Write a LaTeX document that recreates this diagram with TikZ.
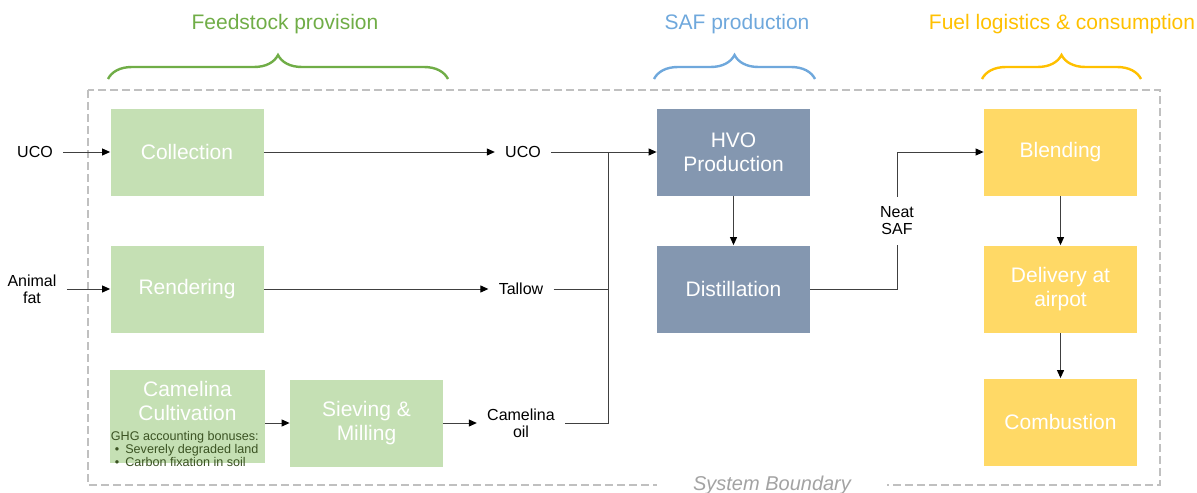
\documentclass[tikz,border=0pt]{standalone}
\usepackage{fontspec}
\setmainfont{Liberation Sans}
\usetikzlibrary{arrows.meta,decorations.pathreplacing}

\definecolor{feedgreen}{HTML}{C5E0B4}
\definecolor{safblue}{HTML}{8497B0}
\definecolor{fuelyellow}{HTML}{FFD966}
\definecolor{titlegreen}{HTML}{70AD47}
\definecolor{titleblue}{HTML}{6FA8DC}
\definecolor{titleyellow}{HTML}{FFC000}
\definecolor{bonusgreen}{HTML}{3B5323}
\definecolor{linegray}{HTML}{404040}
\definecolor{boundgray}{HTML}{C0C0C0}

\tikzset{
  box/.style={minimum width=76.5pt, minimum height=43.5pt, inner sep=0pt,
    text=white, align=center, font=\fontsize{10.5}{12}\selectfont},
  feedbox/.style={box, fill=feedgreen},
  safbox/.style={box, fill=safblue},
  fuelbox/.style={box, fill=fuelyellow},
  flowlabel/.style={inner xsep=5pt, inner ysep=5pt, align=center,
    font=\fontsize{8}{8.5}\selectfont},
  bonus/.style={inner sep=0pt, align=left, text=bonusgreen,
    font=\fontsize{6.3}{6.5}\selectfont},
  phase/.style={font=\fontsize{10.5}{12}\selectfont},
  phasebrace/.style={decorate, line width=1.2pt,
    decoration={brace, amplitude=12pt}},
  boundary/.style={boundgray, line width=1pt, dash pattern=on 4pt off 2pt},
  line/.style={linegray, line width=0.5pt},
  flow/.style={line, -{Triangle[length=4pt,width=3.5pt,color=black]}}
}

\begin{document}
\begin{tikzpicture}[x=0.5pt,y=-0.5pt]
  \useasboundingbox (0,0) rectangle (1197,492);

  % system boundary
  \draw[boundary] (88,90) rectangle (1160,485);
  \node[fill=white, inner xsep=18pt, inner ysep=3pt, anchor=base, text=boundgray!85!black,
    font=\fontsize{10}{12}\selectfont\itshape] (sb) at (772,490) {System Boundary};

  % phases
  \node[phase, text=titlegreen] (feed) at (285,24) {Feedstock provision};
  \node[phase, text=titleblue] (saf) at (737,24) {SAF production};
  \node[phase, text=titleyellow] (fuel) at (1062,24) {Fuel logistics \& consumption};
  \draw[phasebrace, titlegreen] (108,79) -- (448,79);
  \draw[phasebrace, titleblue] (654,79) -- (815,79);
  \draw[phasebrace, titleyellow] (982,79) -- (1141,79);

  % process boxes
  \node[feedbox] (coll) at (187,152) {Collection};
  \node[feedbox] (rend) at (187,289) {Rendering};
  \node[feedbox, minimum width=77.5pt, minimum height=46.5pt] (cult) at (187.5,416.5) {};
  \node[box] (cultname) at (187.5,401) {Camelina\\Cultivation};
  \node[bonus, anchor=north west] (ghg) at (110.5,431)
    {GHG accounting bonuses:\\
     \hspace{2pt}\textbullet\hspace{3pt}Severely degraded land\\
     \hspace{2pt}\textbullet\hspace{3pt}Carbon fixation in soil};
  \node[feedbox] (siev) at (366.5,423) {Sieving \&\\Milling};

  \node[safbox] (hvo) at (733.5,152) {HVO\\Production};
  \node[safbox] (dist) at (733.5,289) {Distillation};

  \node[fuelbox] (blend) at (1060.5,152) {Blending};
  \node[fuelbox] (deliv) at (1060.5,289) {Delivery at\\airpot};
  \node[fuelbox] (comb) at (1060.5,422) {Combustion};

  % stream labels
  \node[flowlabel] (ucoin) at (35,152) {UCO};
  \node[flowlabel] (fatin) at (32,289) {Animal\\fat};
  \node[flowlabel] (uco) at (523,152) {UCO};
  \node[flowlabel] (tallow) at (521,289) {Tallow};
  \node[flowlabel] (oil) at (521,423) {Camelina\\oil};
  \node[flowlabel] (neat) at (897,221) {Neat\\SAF};
  \coordinate (mix) at (608,152);

  \begin{scope}
    \draw[flow] (ucoin) -- (coll);
    \draw[flow] (fatin) -- (rend);
    \draw[flow] (coll) -- (uco);
    \draw[flow] (rend) -- (tallow);
    \draw[flow] (cult.east |- siev.west) -- (siev.west);
    \draw[flow] (siev) -- (oil);
    \draw[line] (uco) -- (mix);
    \draw[line] (tallow) -| (mix);
    \draw[line] (oil) -| (mix);
    \draw[flow] (mix) -- (hvo);
    \draw[flow] (hvo) -- (dist);
    \draw[line] (dist) -| (neat);
    \draw[flow] (neat) |- (blend);
    \draw[flow] (blend) -- (deliv);
    \draw[flow] (deliv) -- (comb);
  \end{scope}
\end{tikzpicture}
\end{document}
